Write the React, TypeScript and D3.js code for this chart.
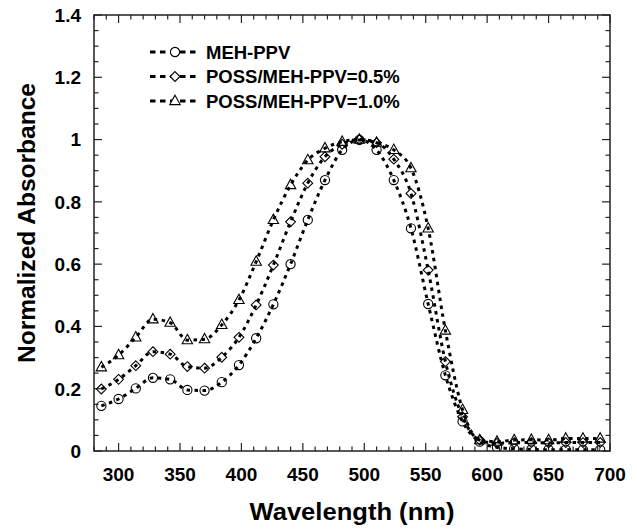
import React from "react";
import * as d3 from "d3";

// wavelengths (nm) where the markers sit
const wavelengths = [
  286, 300, 314, 328, 342, 356, 370, 384, 398, 412, 426, 440, 454, 468, 482,
  496, 510, 524, 538, 552, 566, 580, 594, 608, 622, 636, 650, 664, 678, 692,
];

// normalized absorbance
const mehPpv = [
  0.145, 0.167, 0.201, 0.235, 0.23, 0.196, 0.194, 0.221, 0.276, 0.362, 0.471,
  0.6, 0.742, 0.87, 0.967, 0.999, 0.967, 0.87, 0.715, 0.472, 0.243, 0.095,
  0.03, 0.012, 0.007, 0.005, 0.004, 0.004, 0.004, 0.004,
];
const poss05 = [
  0.199, 0.23, 0.274, 0.319, 0.311, 0.271, 0.266, 0.301, 0.365, 0.469, 0.597,
  0.736, 0.86, 0.945, 0.985, 1.0, 0.99, 0.937, 0.827, 0.581, 0.287, 0.11,
  0.035, 0.025, 0.027, 0.027, 0.026, 0.027, 0.027, 0.027,
];
const poss10 = [
  0.269, 0.308, 0.365, 0.423, 0.412, 0.356, 0.359, 0.405, 0.485, 0.608, 0.742,
  0.854, 0.934, 0.972, 0.993, 1.0, 0.99, 0.967, 0.908, 0.715, 0.387, 0.132,
  0.035, 0.03, 0.035, 0.036, 0.035, 0.04, 0.04, 0.04,
];

const seriesNames = ["MEH-PPV", "POSS/MEH-PPV=0.5%", "POSS/MEH-PPV=1.0%"];
const markerKinds = ["circle", "diamond", "triangle"];

const xTicks = [300, 350, 400, 450, 500, 550, 600, 650, 700];
const yTicks = [0, 0.2, 0.4, 0.6, 0.8, 1, 1.2, 1.4];
const yTickLabels = ["0", "0.2", "0.4", "0.6", "0.8", "1", "1.2", "1.4"];

const W = 637;
const H = 531;
const FONT = "'Liberation Sans', Arial, Helvetica, sans-serif";

const x = d3.scaleLinear().domain([280, 700]).range([94, 610]);
const y = d3.scaleLinear().domain([0, 1.4]).range([451, 15]);

const markerPath = (kind: string, cx: number, cy: number) => {
  if (kind === "circle") {
    const r = 4.6;
    return `M${cx - r},${cy}a${r},${r} 0 1,0 ${2 * r},0a${r},${r} 0 1,0 ${-2 * r},0Z`;
  }
  if (kind === "diamond") {
    const r = 4.9;
    return `M${cx},${cy - r}L${cx + r},${cy}L${cx},${cy + r}L${cx - r},${cy}Z`;
  }
  return `M${cx},${cy - 5.8}L${cx + 5.2},${cy + 3.6}L${cx - 5.2},${cy + 3.6}Z`;
};

const App = () => {
  const series = [mehPpv, poss05, poss10];
  const [x0, x1] = x.range();
  const [y0, y1] = y.range();

  const line = d3
    .line<number>()
    .x((_, i) => x(wavelengths[i]))
    .y((d) => y(d))
    .curve(d3.curveMonotoneX);

  const xMinor = d3.range(280, 701, 10);
  const yMinor = d3.range(0, 28.5, 1).map((v) => v * 0.05);

  return (
    <svg
      width={W}
      height={H}
      style={{ position: "absolute", left: 0, top: 0, background: "#fff" }}
      fontFamily={FONT}
      fontWeight="bold"
    >
      <defs>
        <clipPath id="plot">
          <rect x={x0} y={y1} width={x1 - x0} height={y0 - y1} />
        </clipPath>
      </defs>

      {/* ticks, inward on all four sides */}
      <g stroke="#222" strokeWidth={1.2}>
        {xMinor.map((v) => {
          const major = v % 50 === 0;
          const len = major ? 8 : 4.5;
          return (
            <g key={"xt" + v}>
              <line x1={x(v)} x2={x(v)} y1={y0} y2={y0 - len} />
              <line x1={x(v)} x2={x(v)} y1={y1} y2={y1 + len} />
            </g>
          );
        })}
        {yMinor.map((v, i) => {
          const major = i % 4 === 0;
          const len = major ? 8 : 4.5;
          return (
            <g key={"yt" + i}>
              <line x1={x0} x2={x0 + len} y1={y(v)} y2={y(v)} />
              <line x1={x1} x2={x1 - len} y1={y(v)} y2={y(v)} />
            </g>
          );
        })}
      </g>

      <rect
        x={x0}
        y={y1}
        width={x1 - x0}
        height={y0 - y1}
        fill="none"
        stroke="#222"
        strokeWidth={1.5}
      />

      {/* tick labels */}
      {xTicks.map((v) => (
        <text key={"xl" + v} x={x(v)} y={481} textAnchor="middle" fontSize={19}>
          {v}
        </text>
      ))}
      {yTicks.map((v, i) => (
        <text
          key={"yl" + v}
          x={81}
          y={y(v) + 6.8}
          textAnchor="end"
          fontSize={19}
        >
          {yTickLabels[i]}
        </text>
      ))}

      {/* axis titles */}
      <text
        x={(x0 + x1) / 2}
        y={520}
        textAnchor="middle"
        fontSize={23}
        textLength={205}
        lengthAdjust="spacingAndGlyphs"
      >
        Wavelength (nm)
      </text>
      <text
        transform="translate(35,223) rotate(-90)"
        textAnchor="middle"
        fontSize={23}
        textLength={280}
        lengthAdjust="spacingAndGlyphs"
      >
        Normalized Absorbance
      </text>

      {/* data */}
      <g clipPath="url(#plot)">
        {series.map((vals, s) => (
          <g key={"s" + s}>
            {vals.map((v, i) => (
              <path
                key={i}
                d={markerPath(markerKinds[s], x(wavelengths[i]), y(v))}
                fill="none"
                stroke="#000"
                strokeWidth={1.1}
              />
            ))}
            <path
              d={line(vals) || ""}
              fill="none"
              stroke="#000"
              strokeWidth={3}
              strokeDasharray="3.5 4.5"
            />
          </g>
        ))}
      </g>

      {/* legend */}
      {seriesNames.map((name, s) => {
        const cy = 52 + s * 24.5;
        return (
          <g key={"lg" + s}>
            <line
              x1={150}
              x2={200}
              y1={cy}
              y2={cy}
              stroke="#000"
              strokeWidth={3}
              strokeDasharray="5.5 4.5"
            />
            <path
              d={markerPath(markerKinds[s], 175, cy)}
              fill="#fff"
              stroke="#000"
              strokeWidth={1.1}
            />
            <text x={206} y={cy + 6.5} fontSize={18.5}>
              {name}
            </text>
          </g>
        );
      })}
    </svg>
  );
};

export default App;
